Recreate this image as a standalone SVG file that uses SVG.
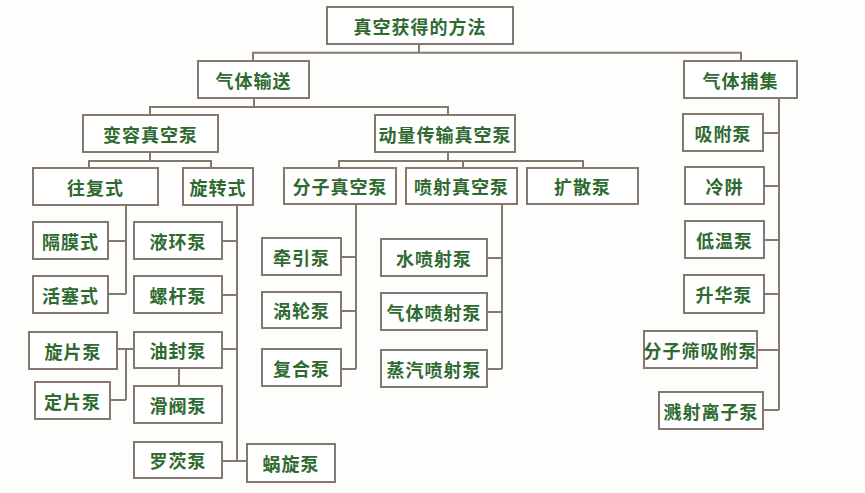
<svg xmlns="http://www.w3.org/2000/svg" width="865" height="493" viewBox="0 0 865 493">
<style>
.b rect{fill:#ffffff;stroke:#85786f;stroke-width:2}
.b text{font-family:"Noto Sans CJK SC","Noto Sans CJK TC",sans-serif;font-size:18px;font-weight:bold;fill:#2f6a31;text-anchor:middle;dominant-baseline:central;letter-spacing:1px}
#conn path{fill:none;stroke:#85786f;stroke-width:2}
</style>
<rect width="865" height="493" fill="#fdfdfb"/>
<g id="conn">
<path d="M419,44 V52.7 M253,61 V52.7 H741 V61"/>
<path d="M254,98 V107 M150,115 V107 H448 V115"/>
<path d="M150,152 V161 M89,168 V161 H211 V168"/>
<path d="M448,152 V161 M339,168 V161 H583 V168 M463,161 V168"/>
<path d="M126,205 V294 M108,241 H126 M108,294 H126"/>
<path d="M237,205 V461 M222,241 H237 M222,295 H237 M222,349 H237 M222,461 H247"/>
<path d="M117,349 H134 M126,349 V400 M110,400 H126"/>
<path d="M179,368 V386"/>
<path d="M356,204 V369 M341,257 H356 M341,311 H356 M341,369 H356"/>
<path d="M502,204 V369 M487,258 H502 M487,312 H502 M487,369 H502"/>
<path d="M779,98 V410 M763,133 H779 M764,186 H779 M764,240 H779 M764,294 H779 M757,350 H779 M763,410 H779"/>
</g>
<g id="n_root" class="b"><rect x="327" y="7" width="186" height="37"/><text x="420" y="25.5">真空获得的方法</text></g>
<g id="n_qtss" class="b"><rect x="198" y="61" width="111" height="37"/><text x="253.5" y="79.5">气体输送</text></g>
<g id="n_qtbj" class="b"><rect x="684" y="61" width="113" height="37"/><text x="740.5" y="79.5">气体捕集</text></g>
<g id="n_brzkb" class="b"><rect x="83" y="115" width="135" height="37"/><text x="150.5" y="133.5">变容真空泵</text></g>
<g id="n_dlcs" class="b"><rect x="375" y="115" width="140" height="37"/><text x="445" y="133.5">动量传输真空泵</text></g>
<g id="n_wfs" class="b"><rect x="33" y="168" width="125" height="37"/><text x="95.5" y="186.5">往复式</text></g>
<g id="n_xzs" class="b"><rect x="183" y="168" width="70" height="37"/><text x="218" y="186.5">旋转式</text></g>
<g id="n_fzzkb" class="b"><rect x="284" y="168" width="112" height="36"/><text x="340" y="186">分子真空泵</text></g>
<g id="n_psaz" class="b"><rect x="406" y="168" width="111" height="36"/><text x="461.5" y="186">喷射真空泵</text></g>
<g id="n_ksb" class="b"><rect x="527" y="168" width="111" height="36"/><text x="582.5" y="186">扩散泵</text></g>
<g id="n_gms" class="b"><rect x="33" y="222" width="75" height="37"/><text x="70.5" y="240.5">隔膜式</text></g>
<g id="n_hss" class="b"><rect x="33" y="276" width="75" height="37"/><text x="70.5" y="294.5">活塞式</text></g>
<g id="n_yhb" class="b"><rect x="134" y="222" width="88" height="37"/><text x="178" y="240.5">液环泵</text></g>
<g id="n_lgb" class="b"><rect x="134" y="276" width="88" height="37"/><text x="178" y="294.5">螺杆泵</text></g>
<g id="n_yfb" class="b"><rect x="134" y="332" width="88" height="36"/><text x="178" y="350">油封泵</text></g>
<g id="n_hfb" class="b"><rect x="134" y="386" width="88" height="37"/><text x="178" y="404.5">滑阀泵</text></g>
<g id="n_lcb" class="b"><rect x="134" y="442" width="88" height="36"/><text x="178" y="460">罗茨泵</text></g>
<g id="n_wxb" class="b"><rect x="247" y="444" width="88" height="38"/><text x="291" y="463">蜗旋泵</text></g>
<g id="n_xpb" class="b"><rect x="29" y="332" width="88" height="37"/><text x="73" y="350.5">旋片泵</text></g>
<g id="n_dpb" class="b"><rect x="35" y="382" width="75" height="37"/><text x="72.5" y="400.5">定片泵</text></g>
<g id="n_qyb" class="b"><rect x="262" y="238" width="79" height="37"/><text x="301.5" y="256.5">牵引泵</text></g>
<g id="n_wlb" class="b"><rect x="262" y="292" width="79" height="36"/><text x="301.5" y="310">涡轮泵</text></g>
<g id="n_fhb" class="b"><rect x="262" y="349" width="79" height="37"/><text x="301.5" y="367.5">复合泵</text></g>
<g id="n_spsb" class="b"><rect x="381" y="239" width="106" height="37"/><text x="434" y="257.5">水喷射泵</text></g>
<g id="n_qtpsb" class="b"><rect x="381" y="293" width="106" height="37"/><text x="434" y="311.5">气体喷射泵</text></g>
<g id="n_zqpsb" class="b"><rect x="381" y="350" width="106" height="37"/><text x="434" y="368.5">蒸汽喷射泵</text></g>
<g id="n_xfb" class="b"><rect x="683" y="114" width="80" height="37"/><text x="723" y="132.5">吸附泵</text></g>
<g id="n_lj" class="b"><rect x="685" y="167" width="79" height="37"/><text x="724.5" y="185.5">冷阱</text></g>
<g id="n_dwb" class="b"><rect x="685" y="221" width="79" height="37"/><text x="724.5" y="239.5">低温泵</text></g>
<g id="n_shb" class="b"><rect x="684" y="275" width="80" height="38"/><text x="724" y="294">升华泵</text></g>
<g id="n_fzsxfb" class="b"><rect x="644" y="331" width="113" height="37"/><text x="700.5" y="349.5">分子筛吸附泵</text></g>
<g id="n_jslzb" class="b"><rect x="659" y="392" width="104" height="37"/><text x="711" y="410.5">溅射离子泵</text></g>
</svg>
